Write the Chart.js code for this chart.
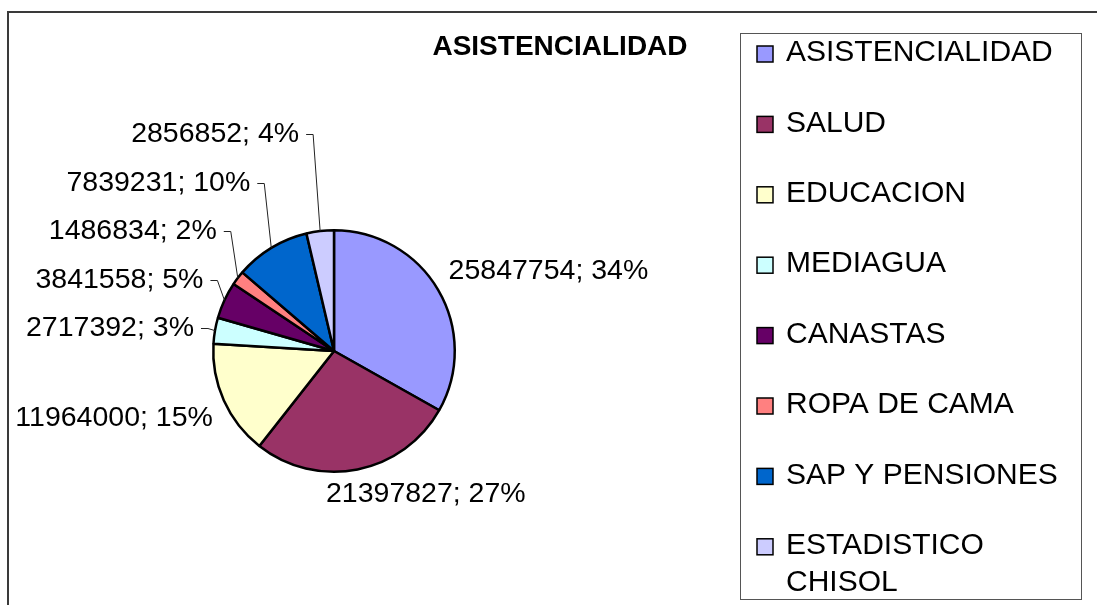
<!DOCTYPE html>
<html>
<head>
<meta charset="utf-8">
<script src="https://cdn.jsdelivr.net/npm/chart.js@4.4.0/dist/chart.umd.min.js"></script>
<style>
body { margin: 0; background: #fff; }
</style>
</head>
<body>
<canvas id="pieChart" width="1097" height="605"></canvas>
<script>
// Datos del gráfico
const titulo = 'ASISTENCIALIDAD';
const categorias = ['ASISTENCIALIDAD', 'SALUD', 'EDUCACION', 'MEDIAGUA', 'CANASTAS', 'ROPA DE CAMA', 'SAP Y PENSIONES', 'ESTADISTICO CHISOL'];
const montos = [25847754, 21397827, 11964000, 2717392, 3841558, 1486834, 7839231, 2856852];
const porcentajes = [34, 27, 15, 3, 5, 2, 10, 4];
const colores = ['#9999FF', '#993366', '#FFFFCC', '#CCFFFF', '#660066', '#FF8080', '#0066CC', '#CCCCFF'];

const fuente = '"Liberation Sans", Arial, sans-serif';

// Marco, título y leyenda estilo Excel
const marcoPlugin = {
    id: 'marco',
    afterDraw(chart) {
        const ctx = chart.ctx;
        ctx.save();

        // marco exterior
        ctx.strokeStyle = '#3a3a3a';
        ctx.lineWidth = 2;
        ctx.strokeRect(8, 12, 1300, 800);

        // título
        ctx.fillStyle = '#000';
        ctx.font = 'bold 28px ' + fuente;
        ctx.textAlign = 'center';
        ctx.textBaseline = 'middle';
        ctx.fillText(titulo, 560, 47);

        // leyenda
        const box = { x: 740.5, y: 33.5, w: 341, h: 566 };
        ctx.strokeStyle = '#555';
        ctx.lineWidth = 1;
        ctx.strokeRect(box.x, box.y, box.w, box.h);

        ctx.font = '30px ' + fuente;
        ctx.textAlign = 'left';
        const textX = 786;
        const maxW = box.x + box.w - textX - 6;
        categorias.forEach((cat, i) => {
            const cy = 53 + i * 70.4;
            ctx.fillStyle = colores[i];
            ctx.fillRect(757, cy - 7, 16, 16);
            ctx.strokeStyle = '#000';
            ctx.lineWidth = 1.5;
            ctx.strokeRect(757, cy - 7, 16, 16);

            // partir texto largo en líneas
            const palabras = cat.split(' ');
            const lineas = [];
            let actual = '';
            palabras.forEach(p => {
                const prueba = actual ? actual + ' ' + p : p;
                if (ctx.measureText(prueba).width > maxW && actual) {
                    lineas.push(actual);
                    actual = p;
                } else {
                    actual = prueba;
                }
            });
            lineas.push(actual);

            ctx.fillStyle = '#000';
            lineas.forEach((l, k) => ctx.fillText(l, textX, cy + k * 37));
        });

        ctx.restore();
    }
};

// Etiquetas de datos con líneas guía
const etiquetasPlugin = {
    id: 'etiquetas',
    afterDatasetsDraw(chart) {
        const ctx = chart.ctx;
        const arcs = chart.getDatasetMeta(0).data;
        ctx.save();
        ctx.font = '28.5px ' + fuente;
        ctx.fillStyle = '#000';
        ctx.textBaseline = 'middle';

        const apiladas = [];
        const h = 26;

        arcs.forEach((arc, i) => {
            const { x, y, startAngle, endAngle, outerRadius } =
                arc.getProps(['x', 'y', 'startAngle', 'endAngle', 'outerRadius'], true);
            const mid = (startAngle + endAngle) / 2;
            const dx = Math.cos(mid), dy = Math.sin(mid);
            const texto = montos[i] + '; ' + porcentajes[i] + '%';
            const w = ctx.measureText(texto).width;
            const ax = x + outerRadius * dx, ay = y + outerRadius * dy;

            if (porcentajes[i] <= 10) {
                apiladas.push({ texto, w, ax, ay, ty: y + (outerRadius + 13) * dy });
                return;
            }

            const px = x + (outerRadius + 12) * dx;
            const py = y + (outerRadius + 12) * dy;
            let left = dx >= 0 ? px : px - w;
            left -= w * 0.5 * Math.pow(1 - Math.abs(dx), 5) * Math.sign(dx);
            const cy = dy >= 0 ? py + h / 2 : py - h / 2;
            ctx.textAlign = 'left';
            ctx.fillText(texto, left, cy);
        });

        // etiquetas pequeñas: se apilan hacia arriba
        apiladas.sort((a, b) => b.ty - a.ty);
        let prev = Infinity;
        ctx.strokeStyle = '#222';
        ctx.lineWidth = 1;
        apiladas.forEach(e => {
            const ty = Math.min(e.ty, prev - 48.5);
            prev = ty;
            const right = e.ax - 21;
            ctx.textAlign = 'right';
            ctx.fillText(e.texto, right, ty);

            ctx.beginPath();
            ctx.moveTo(right + 7, Math.round(ty) + 0.5);
            ctx.lineTo(right + 14, Math.round(ty) + 0.5);
            ctx.lineTo(e.ax, e.ay);
            ctx.stroke();
        });

        ctx.restore();
    }
};

new Chart(document.getElementById('pieChart'), {
    type: 'pie',
    data: {
        labels: categorias,
        datasets: [{
            data: montos,
            backgroundColor: colores,
            borderColor: '#000',
            borderWidth: 2.5,
            offset: 0,
            hoverOffset: 0
        }]
    },
    options: {
        responsive: false,
        animation: false,
        events: [],
        layout: { padding: { left: 212, right: 641, top: 229, bottom: 132 } },
        plugins: {
            legend: { display: false },
            tooltip: { enabled: false },
            title: { display: false }
        }
    },
    plugins: [marcoPlugin, etiquetasPlugin]
});
</script>
</body>
</html>
